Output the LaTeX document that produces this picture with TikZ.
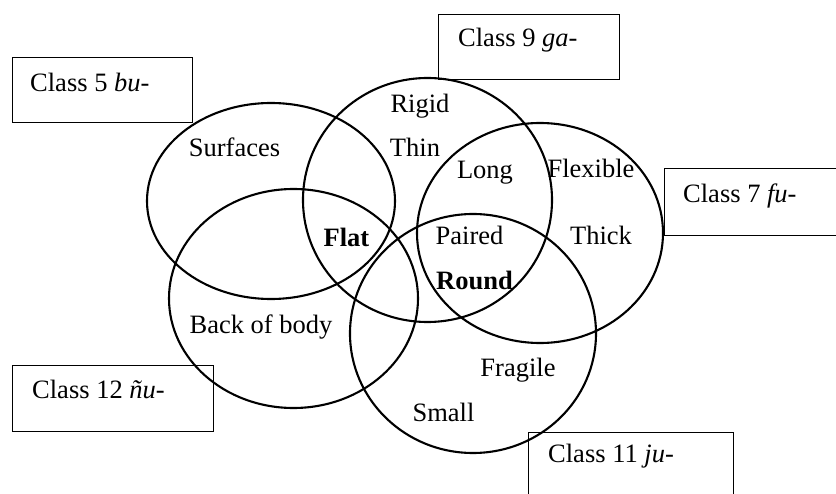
\documentclass[tikz,border=0pt]{standalone}
\usepackage{fontspec}
\setmainfont{Liberation Serif}
\begin{document}
\begin{tikzpicture}[x=1pt,y=-1pt,
  set/.style={draw=black,line width=2.1pt},
  classbox/.style={draw=black,line width=1.4pt,rectangle,inner sep=0pt,anchor=north west},
  lbl/.style={anchor=base,inner sep=0pt,font=\fontsize{26.5}{30}\selectfont},
  boxlbl/.style={anchor=base west,inner sep=0pt,font=\fontsize{26.5}{30}\selectfont}]
\useasboundingbox[fill=white] (0,0) rectangle (836,494);

% the five overlapping classes
\draw[set] (271,201) ellipse [x radius=124, y radius=98];    % class 5
\draw[set] (427.5,200) ellipse [x radius=124.5, y radius=122]; % class 9
\draw[set] (540,233) ellipse [x radius=123, y radius=110];   % class 7
\draw[set] (293.5,298.5) ellipse [x radius=124.5, y radius=109.5]; % class 12
\draw[set] (473,333.5) ellipse [x radius=123, y radius=119.5]; % class 11

% class name boxes
\node[classbox,minimum width=180,minimum height=65] (b5) at (12,57) {};
\node[boxlbl] (t5) at (30,92) {Class 5 \textit{bu-}};
\node[classbox,minimum width=181,minimum height=65] (b9) at (438,14) {};
\node[boxlbl] (t9) at (458,47) {Class 9 \textit{ga-}};
\node[classbox,minimum width=180,minimum height=67] (b7) at (664,168) {};
\node[boxlbl] (t7) at (683,203) {Class 7 \textit{fu-}};
\node[classbox,minimum width=201,minimum height=66] (b12) at (12,365) {};
\node[boxlbl] (t12) at (32,399) {Class 12 \textit{ñu-}};
\node[classbox,minimum width=205,minimum height=75] (b11) at (528,432) {};
\node[boxlbl] (t11) at (548,463) {Class 11 \textit{ju-}};

% semantic features
\node[lbl] (surfaces) at (234.5,157) {Surfaces};
\node[lbl] (rigid) at (420,113) {Rigid};
\node[lbl] (thin) at (415,157) {Thin};
\node[lbl] (long) at (485,179) {Long};
\node[lbl] (flexible) at (591,178) {Flexible};
\node[lbl] (flat) at (346.5,247) {\textbf{Flat}};
\node[lbl] (paired) at (469.5,245) {Paired};
\node[lbl] (thick) at (601,245) {Thick};
\node[lbl] (round) at (474.5,290) {\textbf{Round}};
\node[lbl] (back) at (261,334) {Back of body};
\node[lbl] (fragile) at (518,377) {Fragile};
\node[lbl] (small) at (443.5,421) {Small};
\end{tikzpicture}
\end{document}
